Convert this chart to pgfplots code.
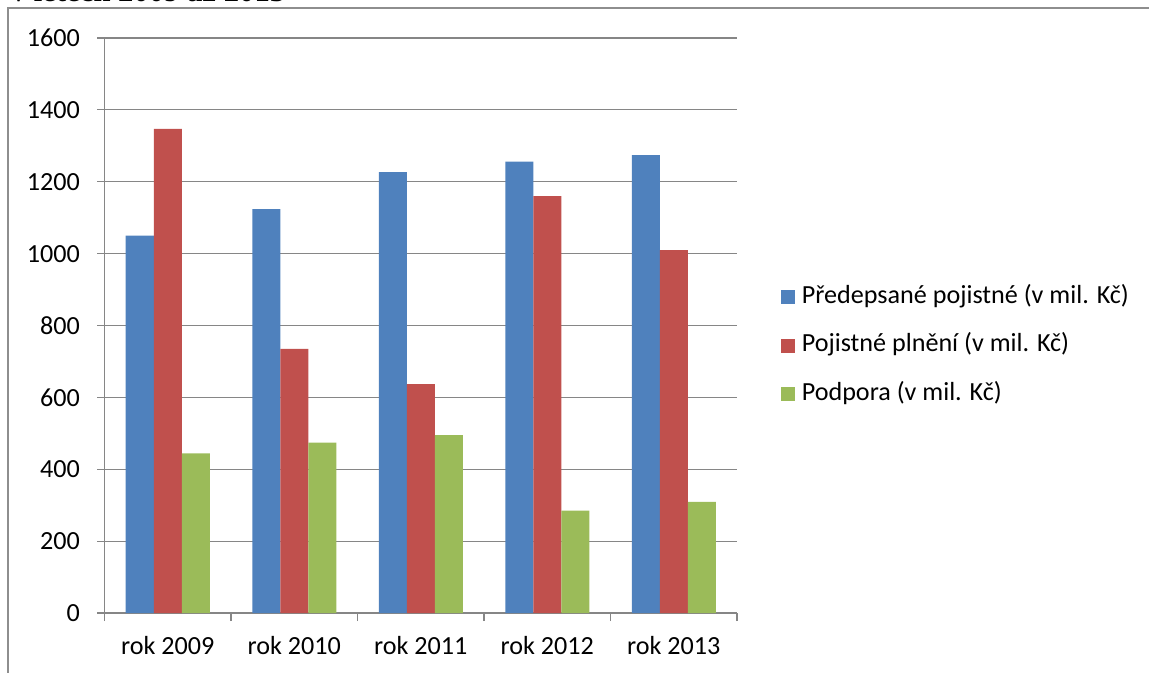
\documentclass[border=0pt]{standalone}
\usepackage{pgfplots}
\pgfplotsset{compat=1.18}
\usepackage{fontspec}
\setmainfont{Carlito}
\newfontfamily\titlefont{Liberation Serif}
\definecolor{cblue}{HTML}{4F81BD}
\definecolor{cred}{HTML}{C0504D}
\definecolor{cgreen}{HTML}{9BBB59}
\definecolor{gridgray}{HTML}{868686}
\definecolor{framegray}{HTML}{8E8E8E}
\begin{document}
\begin{tikzpicture}
\useasboundingbox (0,0) rectangle (861.75pt,504pt);
\begin{scope}
\clip (0,0) rectangle (861.75pt,504pt);
\node[anchor=base west, inner sep=0pt, font=\titlefont\bfseries\fontsize{23}{27}\selectfont] at (8pt,503pt) {v letech 2009 až 2013};
\end{scope}
\draw[framegray, line width=1.1pt] (6pt,-2pt) -- (6pt,498pt) -- (866pt,498pt);
\begin{axis}[
  at={(78.375pt,44.25pt)}, anchor=south west,
  scale only axis, width=474.375pt, height=431.25pt,
  ybar, bar width=21pt,
  xmin=-0.5, xmax=4.5, ymin=0, ymax=1600,
  enlargelimits=false,
  axis x line*=bottom, axis y line*=left,
  axis line style={draw=gridgray, line width=0.9pt},
  xtick={0,1,2,3,4},
  xticklabels={rok 2009,rok 2010,rok 2011,rok 2012,rok 2013},
  major x tick style={draw=none},
  minor xtick={-0.5,0.5,1.5,2.5,3.5,4.5},
  ytick={0,200,...,1600},
  tick align=outside,
  major tick length=5.6pt,
  minor tick length=6pt,
  tick style={draw=gridgray, line width=0.9pt},
  ymajorgrids,
  major grid style={draw=gridgray, line width=0.9pt},
  /pgf/number format/.cd, assume math mode=true, 1000 sep={},
  /pgfplots/.cd,
  tick label style={font=\fontsize{19.6}{23.5}\selectfont, text=black},
  yticklabel style={inner sep=0pt, xshift=-12.75pt},
  xticklabel style={inner sep=0pt, text height=13.5pt, anchor=north, yshift=-12pt},
  legend style={at={(1.0688,0.465)}, anchor=west, draw=none, fill=none, inner sep=0pt,
    font=\fontsize{19.6}{23.5}\selectfont, row sep=17.3pt,
    nodes={inner sep=0pt, text height=14pt, text depth=5pt},
    /tikz/every odd column/.append style={column sep=5.25pt}},
  legend cell align=left,
  legend image code/.code={\fill[#1] (0pt,-5.25pt) rectangle (10.5pt,5.25pt);},
]
\addplot[fill=cblue, draw=none, bar shift=-21pt] coordinates {(0,1050) (1,1124) (2,1227) (3,1256) (4,1274)};
\addplot[fill=cred, draw=none, bar shift=0pt] coordinates {(0,1347) (1,735) (2,637) (3,1160) (4,1010)};
\addplot[fill=cgreen, draw=none, bar shift=21pt] coordinates {(0,444) (1,474) (2,495) (3,285) (4,309)};
\legend{Předepsané pojistné (v mil. Kč),Pojistné plnění (v mil. Kč),Podpora (v mil. Kč)}
\end{axis}
\end{tikzpicture}
\end{document}
